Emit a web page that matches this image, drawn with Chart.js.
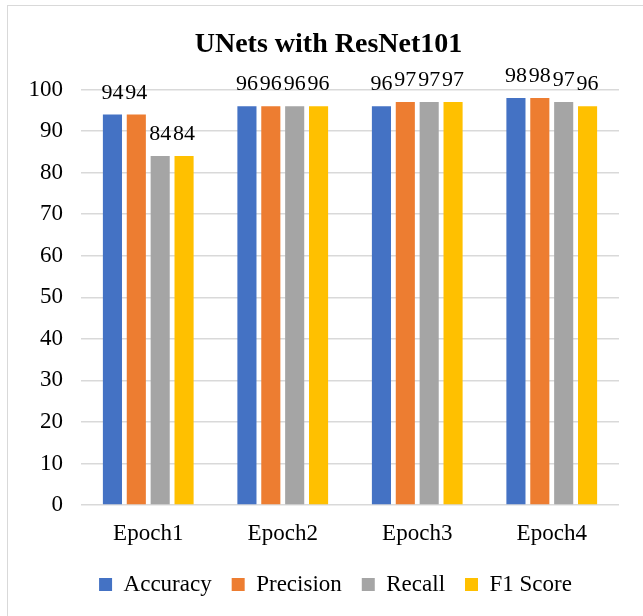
<!DOCTYPE html>
<html>
<head>
<meta charset="utf-8">
<script src="https://cdn.jsdelivr.net/npm/chart.js@4/dist/chart.umd.min.js"></script>
<style>
  html, body { margin: 0; padding: 0; background: #fff; }
  #wrap { position: relative; width: 643px; height: 616px; }
  #frame { position: absolute; left: 7px; top: 5px; width: 640px; height: 620px; border: 1.5px solid #d9d9d9; box-sizing: border-box; }
  canvas { position: absolute; left: 0; top: 0; }
</style>
</head>
<body>
<div id="wrap">
  <div id="frame"></div>
  <canvas id="chart" width="643" height="616"></canvas>
</div>
<script>
// Scores per training epoch
const categories = ["Epoch1", "Epoch2", "Epoch3", "Epoch4"];
const accuracy  = [94, 96, 96, 98];
const precision = [94, 96, 97, 98];
const recall    = [84, 96, 97, 97];
const f1Score   = [84, 96, 97, 96];
const yTicks    = [0, 10, 20, 30, 40, 50, 60, 70, 80, 90, 100];

const serif = "'Liberation Serif', 'Times New Roman', serif";

// Value labels drawn above each bar
const valueLabels = {
  id: "valueLabels",
  afterDatasetsDraw(chart) {
    const ctx = chart.ctx;
    ctx.save();
    ctx.font = "22px " + serif;
    ctx.fillStyle = "#000";
    ctx.textAlign = "center";
    ctx.textBaseline = "alphabetic";
    chart.data.datasets.forEach((ds, i) => {
      const meta = chart.getDatasetMeta(i);
      meta.data.forEach((bar, j) => {
        ctx.fillText(String(ds.data[j]), bar.x, bar.y - 16);
      });
    });
    ctx.restore();
  }
};

// Centre the title and legend row over the plot rather than the whole canvas
const blockShift = {
  id: "blockShift",
  afterLayout(chart) {
    if (chart.legend) {
      chart.legend.left += 21;
      chart.legend.right += 21;
    }
    if (chart.titleBlock) {
      chart.titleBlock.left += 14;
      chart.titleBlock.right += 14;
    }
  }
};

const mk = (label, data, color) => ({
  label, data, backgroundColor: color, borderWidth: 0,
  barPercentage: 0.8, categoryPercentage: 0.71
});

new Chart(document.getElementById("chart"), {
  type: "bar",
  data: {
    labels: categories,
    datasets: [
      mk("Accuracy", accuracy, "#4472C4"),
      mk("Precision", precision, "#ED7D31"),
      mk("Recall", recall, "#A5A5A5"),
      mk("F1 Score", f1Score, "#FFC000")
    ]
  },
  options: {
    responsive: false,
    animation: false,
    layout: { padding: { left: 10, right: 24, top: 5, bottom: 10 } },
    plugins: {
      title: {
        display: true,
        text: "UNets with ResNet101",
        color: "#000",
        font: { family: serif, size: 28, weight: "bold" },
        padding: { top: 23, bottom: 28 }
      },
      legend: {
        position: "bottom",
        labels: {
          color: "#000",
          font: { family: serif, size: 23 },
          boxWidth: 13, boxHeight: 13,
          padding: 20
        }
      },
      tooltip: { enabled: false }
    },
    scales: {
      x: {
        afterFit(axis) { axis.height = 48; },
        grid: { display: false, drawTicks: false },
        border: { display: false },
        ticks: { color: "#000", font: { family: serif, size: 23 }, padding: 15 }
      },
      y: {
        min: 0, max: 100,
        afterFit(axis) { axis.width = 71; },
        afterBuildTicks(axis) { axis.ticks = yTicks.map(v => ({ value: v })); },
        grid: { color: "#d9d9d9", lineWidth: 1.5, drawTicks: false },
        border: { display: false },
        ticks: { color: "#000", font: { family: serif, size: 23 }, padding: 18 }
      }
    }
  },
  plugins: [valueLabels, blockShift]
});
</script>
</body>
</html>
